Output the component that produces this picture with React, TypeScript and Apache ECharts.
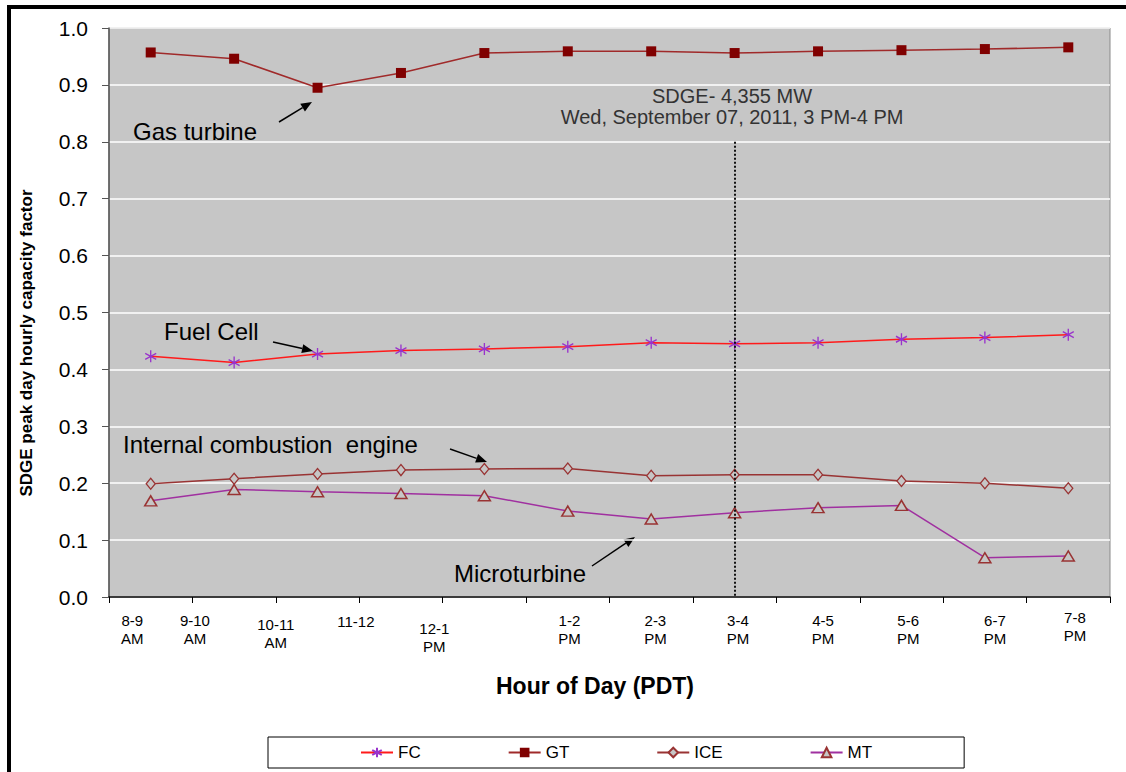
import React, { useEffect, useRef } from "react";
import * as echarts from "echarts";

// ---------- data ----------
const categories = [
  "8-9\nAM", "9-10\nAM", "10-11\nAM", "11-12", "12-1\nPM", "1-2\nPM",
  "2-3\nPM", "3-4\nPM", "4-5\nPM", "5-6\nPM", "6-7\nPM", "7-8\nPM",
];
const fcValues = [0.423, 0.412, 0.427, 0.433, 0.436, 0.44, 0.447, 0.445, 0.447, 0.453, 0.456, 0.461];
const gtValues = [0.957, 0.946, 0.895, 0.921, 0.956, 0.959, 0.959, 0.956, 0.959, 0.961, 0.963, 0.966];
const iceValues = [0.199, 0.208, 0.216, 0.223, 0.225, 0.226, 0.213, 0.215, 0.215, 0.204, 0.2, 0.191];
const mtValues = [0.169, 0.189, 0.185, 0.182, 0.178, 0.151, 0.137, 0.148, 0.157, 0.161, 0.069, 0.072];
const seriesNames = ["FC", "GT", "ICE", "MT"];
const peakHourIndex = 7;
const peakLineTop = 0.8;
const yTicks = { min: 0, max: 1, interval: 0.1 };
const yAxisTitle = "SDGE peak day hourly capacity factor";
const xAxisTitle = "Hour of Day (PDT)";
const peakNote = ["SDGE- 4,355 MW", "Wed, September 07, 2011, 3 PM-4 PM"];
const callouts = ["Gas turbine", "Fuel Cell", "Internal combustion  engine", "Microturbine"];

// ---------- layout: label nudges mimicking the original placement ----------
const labelShiftX = [-0.22, -0.47, -0.5, -0.54, -0.6, 0.02, 0.05, 0.04, 0.06, 0.08, 0.12, 0.08];
const labelShiftY = [0, 0, 4, 1, 8, 0, 0, 0, 0, 0, 0, -3];

const FONT = "'Liberation Sans', Arial, Helvetica, sans-serif";
const ASTERISK = "path://M0,-10 L0,10 M-8.66,-5 L8.66,5 M-8.66,5 L8.66,-5";

function arrow(x1: number, y1: number, x2: number, y2: number) {
  const ang = Math.atan2(y2 - y1, x2 - x1);
  const len = 11, half = 4.5;
  const bx = x2 - len * Math.cos(ang), by = y2 - len * Math.sin(ang);
  const px = -Math.sin(ang) * half, py = Math.cos(ang) * half;
  return [
    { type: "line", shape: { x1, y1, x2: bx, y2: by }, style: { stroke: "#000", lineWidth: 1.5 }, silent: true },
    {
      type: "polygon",
      shape: { points: [[x2, y2], [bx + px, by + py], [bx - px, by - py]] },
      style: { fill: "#000" },
      silent: true,
    },
  ];
}

export default function App() {
  const ref = useRef<HTMLDivElement>(null);
  useEffect(() => {
    if (!ref.current) return;
    const chart = echarts.init(ref.current, undefined, { renderer: "svg" });

    const labelPos = categories.map((_, i) => i + 0.5 + labelShiftX[i]);
    const findIdx = (v: number) => {
      let best = 0;
      labelPos.forEach((p, i) => { if (Math.abs(p - v) < Math.abs(labelPos[best] - v)) best = i; });
      return best;
    };

    // one label-only value axis per vertical offset group
    const dyGroups = Array.from(new Set(labelShiftY));
    const labelAxes = dyGroups.map((dy) => ({
      type: "value",
      position: "bottom",
      min: 0,
      max: categories.length,
      axisLine: { show: false },
      axisTick: { show: false },
      splitLine: { show: false },
      axisLabel: {
        customValues: labelPos.filter((_, i) => labelShiftY[i] === dy),
        margin: 14 + dy,
        hideOverlap: false,
        showMinLabel: true,
        showMaxLabel: true,
        fontSize: 15,
        lineHeight: 18,
        fontFamily: FONT,
        color: "#000",
        formatter: (value: number) => categories[findIdx(value)],
      },
    }));

    const textStyleCommon = { fontFamily: FONT, fill: "#000" };

    const option: any = {
      animation: false,
      backgroundColor: "#fff",
      textStyle: { fontFamily: FONT },
      grid: {
        left: 109, right: 16, top: 28, bottom: 175,
        show: true, backgroundColor: "#C6C6C6", borderColor: "#8a8a8a", borderWidth: 1,
      },
      legend: {
        data: seriesNames,
        left: 268, top: 737,
        padding: [7, 92, 7, 92],
        itemGap: 87,
        itemWidth: 32, itemHeight: 12,
        borderColor: "#000", borderWidth: 1,
        textStyle: { fontFamily: FONT, fontSize: 17, color: "#000" },
      },
      xAxis: [
        {
          type: "category",
          data: categories,
          boundaryGap: true,
          axisLine: { lineStyle: { color: "#000", width: 1.5 } },
          axisTick: { show: true, length: 6, inside: false, lineStyle: { color: "#000" } },
          splitLine: { show: false },
          axisLabel: { show: false },
        },
        ...labelAxes,
      ],
      yAxis: {
        type: "value",
        min: yTicks.min, max: yTicks.max, interval: yTicks.interval,
        axisLine: { show: true, lineStyle: { color: "#555", width: 1.5 } },
        axisTick: { show: true, length: 7, lineStyle: { color: "#555" } },
        splitLine: { show: true, lineStyle: { color: "#fff", width: 1.5 } },
        axisLabel: {
          margin: 21, fontSize: 21, color: "#000", fontFamily: FONT,
          formatter: (v: number) => v.toFixed(1),
        },
      },
      series: [
        {
          name: "FC", type: "line", data: fcValues, xAxisIndex: 0,
          symbol: ASTERISK, symbolSize: [11, 12],
          lineStyle: { color: "#FF1A1A", width: 1.5 },
          itemStyle: { color: "#9933CC", borderColor: "#9933CC", borderWidth: 1.4 },
          z: 3,
        },
        {
          name: "GT", type: "line", data: gtValues, xAxisIndex: 0,
          symbol: "rect", symbolSize: 10,
          lineStyle: { color: "#A02A2A", width: 1.5 },
          itemStyle: { color: "#800000" },
          z: 3,
          markLine: {
            silent: true, symbol: "none", animation: false,
            label: { show: false },
            lineStyle: { color: "#111", width: 2, type: [2, 2] },
            data: [[
              { coord: [categories[peakHourIndex], peakLineTop] },
              { coord: [categories[peakHourIndex], yTicks.min] },
            ]],
          },
        },
        {
          name: "ICE", type: "line", data: iceValues, xAxisIndex: 0,
          symbol: "diamond", symbolSize: [9, 11],
          lineStyle: { color: "#993333", width: 1.5 },
          itemStyle: { color: "#C6C6C6", borderColor: "#993333", borderWidth: 1.3 },
          z: 3,
        },
        {
          name: "MT", type: "line", data: mtValues, xAxisIndex: 0,
          symbol: "triangle", symbolSize: [12, 10],
          lineStyle: { color: "#A030A0", width: 1.5 },
          itemStyle: { color: "#C6C6C6", borderColor: "#993333", borderWidth: 1.5 },
          z: 3,
        },
      ],
      graphic: [
        // outer frame (top and left)
        { type: "rect", shape: { x: 7, y: 5, width: 1126, height: 4 }, style: { fill: "#000" }, silent: true },
        { type: "rect", shape: { x: 7, y: 5, width: 4, height: 800 }, style: { fill: "#000" }, silent: true },
        // axis titles
        {
          type: "text", x: 26, y: 343, rotation: Math.PI / 2,
          style: { ...textStyleCommon, text: yAxisTitle, fontSize: 17, fontWeight: "bold", align: "center", verticalAlign: "middle" },
        },
        {
          type: "text", x: 595, y: 686,
          style: { ...textStyleCommon, text: xAxisTitle, fontSize: 23, fontWeight: "bold", align: "center", verticalAlign: "middle" },
        },
        // peak-hour note
        {
          type: "text", x: 732, y: 96,
          style: { fontFamily: FONT, fill: "#333", text: peakNote[0], fontSize: 20, align: "center", verticalAlign: "middle" },
        },
        {
          type: "text", x: 732, y: 117,
          style: { fontFamily: FONT, fill: "#333", text: peakNote[1], fontSize: 20, align: "center", verticalAlign: "middle" },
        },
        // callouts
        { type: "text", x: 133, y: 131, style: { ...textStyleCommon, text: callouts[0], fontSize: 24, verticalAlign: "middle" } },
        { type: "text", x: 164, y: 331, style: { ...textStyleCommon, text: callouts[1], fontSize: 24, verticalAlign: "middle" } },
        { type: "text", x: 123, y: 444, style: { ...textStyleCommon, text: callouts[2], fontSize: 24, verticalAlign: "middle" } },
        { type: "text", x: 454, y: 573, style: { ...textStyleCommon, text: callouts[3], fontSize: 24, verticalAlign: "middle" } },
        ...arrow(279, 122, 312, 102),
        ...arrow(273, 342, 313, 351),
        ...arrow(450, 449, 487, 462),
        ...arrow(592, 566, 635, 537),
      ],
    };
    chart.setOption(option);
    return () => chart.dispose();
  }, []);
  return (
    <div
      ref={ref}
      style={{ position: "fixed", left: 0, top: 0, width: 1126, height: 772, background: "#fff" }}
    />
  );
}
